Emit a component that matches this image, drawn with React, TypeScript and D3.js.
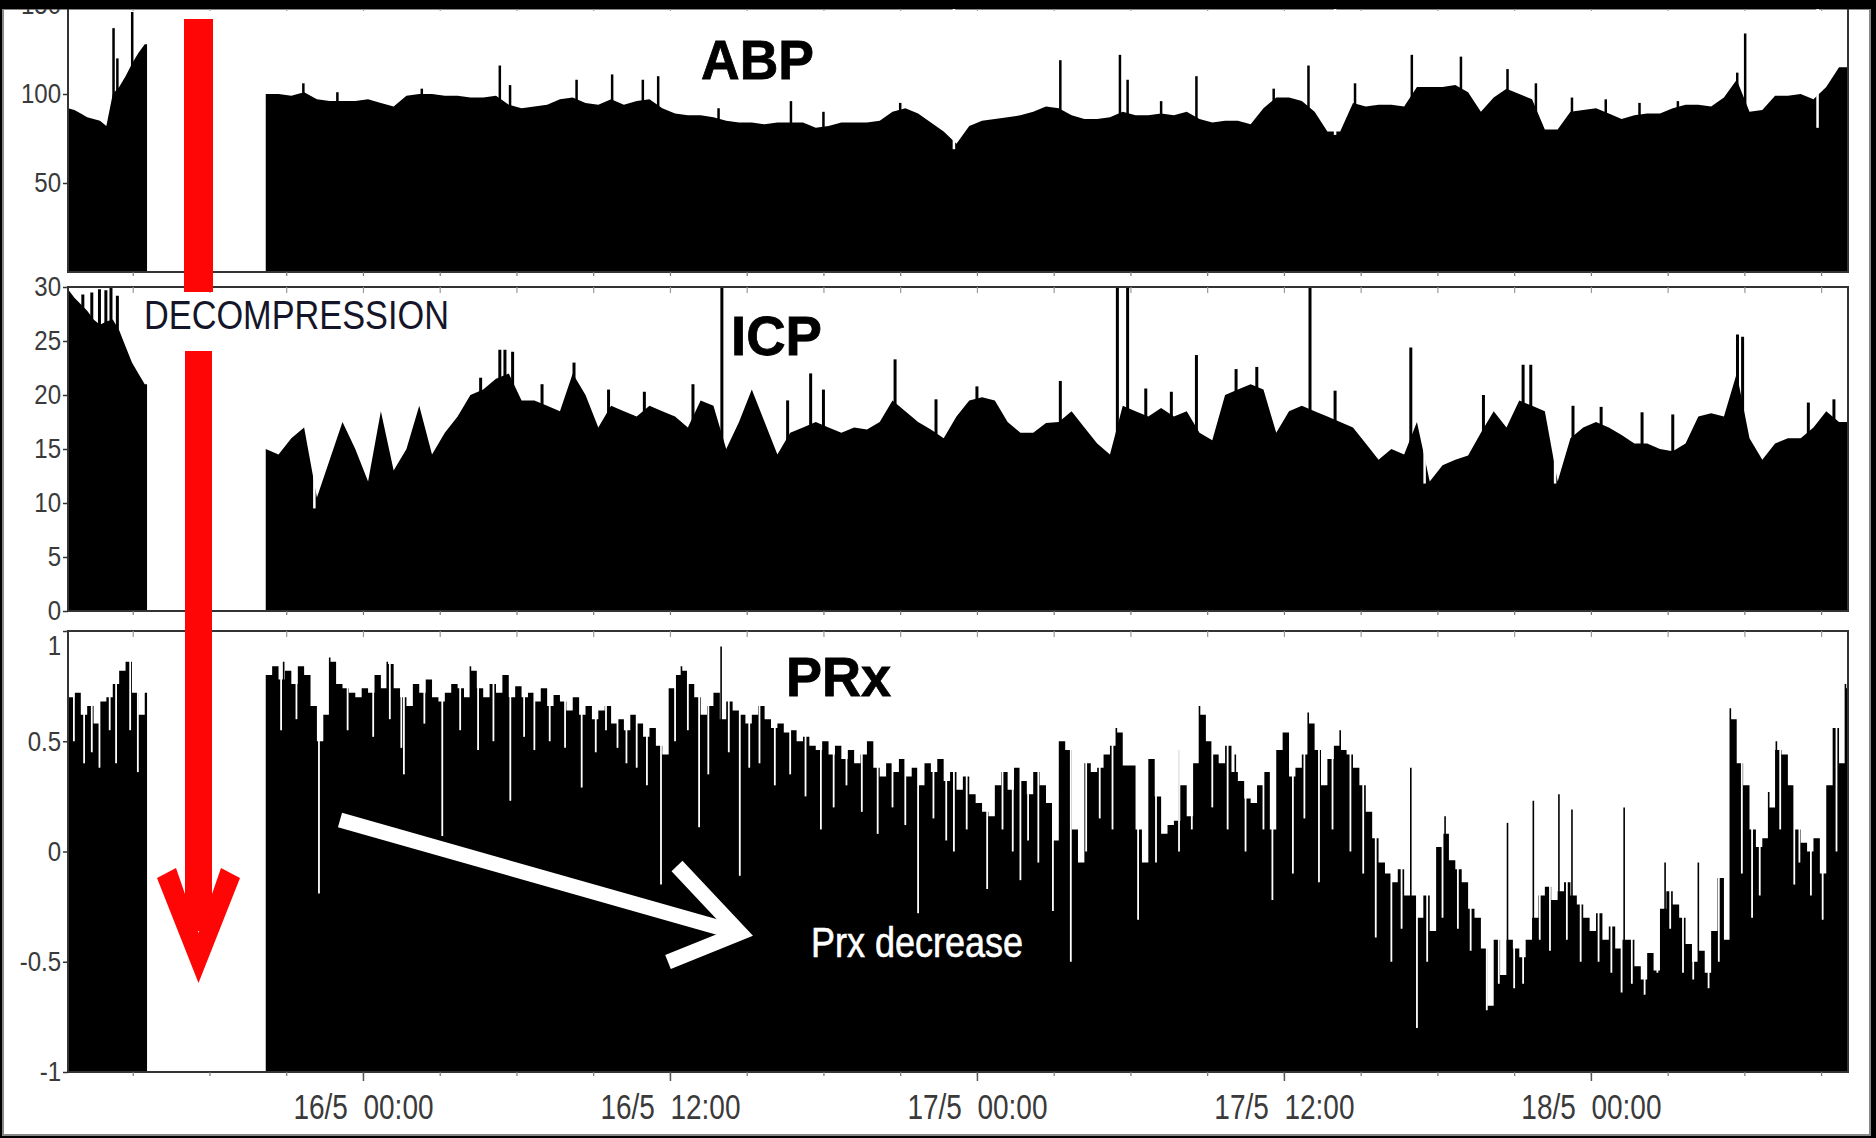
import React, { useEffect, useRef } from "react";
import * as d3 from "d3";

const WIDTH = 1876;
const HEIGHT = 1138;
const FONT = "'Liberation Sans', Arial, Helvetica, sans-serif";

// Time is kept in hours relative to 16/5 00:00
const T0 = Date.UTC(2012, 4, 16, 0, 0);
const VIEW = [-11.53, 58.05];
const PRE = [-11.53, -8.44]; // before decompression, samples every 15 min
const POST = [-3.8, 58.05]; // after decompression

// ABP (mmHg)
const ABP_PRE = [92, 91, 89, 87, 86, 85, 82, 100, 104, 110, 117, 123, 128];
// every 30 min from -3.8h
const ABP_POST = [
  100, 100, 99, 101, 97, 96, 96, 96, 97, 95, 93, 99, 100, 100, 99, 99, 98, 98, 99, 94,
  92, 93, 94, 97, 98, 95, 94, 97, 94, 96, 97, 92, 89, 88, 88, 87, 85, 84, 84, 83,
  84, 84, 84, 81, 82, 84, 84, 84, 85, 90, 92, 89, 84, 79, 72, 82, 85, 86, 87, 88,
  90, 93, 92, 88, 86, 86, 87, 90, 88, 88, 89, 88, 90, 86, 84, 85, 85, 83, 92, 98,
  98, 96, 90, 79, 79, 95, 93, 94, 94, 93, 104, 104, 104, 105, 101, 90, 98, 103, 100, 97,
  80, 80, 90, 91, 92, 89, 86, 88, 89, 89, 92, 94, 94, 93, 98, 108, 90, 91, 99, 99,
  100, 97, 104, 115,
];
const ABP_SPIKES = [
  [-9.75, 137], [-9.6, 120], [-9.02, 146], [-2.33, 106], [-1.0, 101], [2.3, 103], [5.35, 116], [5.75, 105],
  [8.35, 108], [9.74, 111], [10.94, 108], [11.54, 110], [13.9, 92], [16.73, 96], [18.0, 90], [21.0, 95],
  [27.26, 119], [29.59, 122], [29.89, 108], [31.2, 96], [32.58, 110], [36.96, 116], [35.6, 103],
  [38.78, 106], [41.0, 122], [42.92, 121], [44.74, 114], [45.85, 106], [47.26, 98], [49.9, 95],
  [48.58, 97], [51.4, 96], [53.72, 112], [54.03, 134],
];
const ABP_DIPS = [[23.1, 69], [38.0, 77], [56.86, 81]];

// ICP (mmHg)
const ICP_PRE = [29.8, 29, 28.4, 27.8, 27, 26.5, 26.8, 27, 26, 24.5, 23, 22, 21];
const ICP_POST = [
  15, 14.5, 16, 17, 10.5, 14, 17.5, 15, 12, 18.5, 13, 15, 19, 14.5, 16.5, 18, 20, 20.5, 21.5, 22,
  19.5, 19.5, 19, 18.5, 22, 20, 17, 19, 18.5, 18, 19, 18.5, 18, 17, 19.5, 19, 15, 17.5, 20.5, 17.5,
  14.5, 16.5, 17, 17.5, 17, 16.5, 17, 16.8, 17.5, 19.5, 18.5, 17.5, 16.8, 16, 18, 19.5, 19.8, 19.5, 17.5, 16.5,
  16.5, 17.4, 17.5, 18.5, 17, 15.5, 14.5, 19, 18.5, 18, 18.8, 18, 18.5, 16.5, 15.8, 20, 20.5, 21, 20.5, 16.5,
  18.5, 19, 18.5, 18, 17.5, 17, 15.5, 14, 15, 14.5, 17.5, 12, 13.5, 14, 14.4, 16.5, 18.5, 17, 19.5, 19,
  18.5, 12, 16, 17, 17.5, 17, 16.3, 15.5, 15.5, 15, 14.8, 15.5, 18, 18.3, 18, 22, 16, 14, 15.5, 16,
  16, 17, 18.5, 17.5,
];
const ICP_SPIKES = [
  [-10.95, 29.3], [-10.6, 29.5], [-10.3, 29.8], [-10.05, 29.7], [-9.85, 29.9], [-9.6, 29.2],
  [4.6, 21.6], [5.35, 24.2], [5.55, 24.2], [5.85, 24], [7.0, 21], [8.25, 23], [9.6, 20.5], [11.0, 20.3],
  [12.9, 21], [14.03, 31], [16.6, 19.5], [17.5, 22], [18.0, 20.5], [20.8, 23.3], [22.4, 19.6],
  [24.0, 20.8], [27.26, 21.3], [29.49, 31], [29.89, 31], [30.6, 20.6], [31.6, 20.3], [32.58, 23.7],
  [34.13, 22.4], [34.94, 22.6], [37.02, 31], [38.0, 20.4], [40.96, 24.4], [43.8, 20], [45.35, 22.8], [45.65, 22.8],
  [47.3, 19], [48.4, 18.9], [50.0, 18.4], [51.2, 18.2], [53.73, 25.6], [53.93, 25.4], [56.5, 19.3], [57.5, 19.6],
];
const ICP_DIPS = [[-1.9, 9.5], [41.5, 11.8], [46.6, 11.8]];

// PRx (a.u.)
const PRX_PRE = [0.7, 0.72, 0.62, 0.66, 0.58, 0.68, 0.7, 0.76, 0.82, 0.86, 0.72, 0.62, 0.72];
// every 15 min from -3.8h
const PRX_POST = [
  0.8, 0.84, 0.78, 0.82, 0.76, 0.84, 0.8, 0.66, 0.5, 0.62, 0.86, 0.76, 0.74, 0.72, 0.7, 0.74,
  0.72, 0.8, 0.74, 0.85, 0.74, 0.7, 0.66, 0.76, 0.72, 0.78, 0.7, 0.68, 0.72, 0.76, 0.74, 0.7,
  0.82, 0.74, 0.7, 0.76, 0.72, 0.8, 0.7, 0.75, 0.7, 0.72, 0.68, 0.74, 0.66, 0.71, 0.68, 0.64,
  0.7, 0.62, 0.66, 0.6, 0.64, 0.66, 0.58, 0.6, 0.55, 0.62, 0.58, 0.52, 0.56, 0.48, 0.44, 0.74,
  0.8, 0.82, 0.76, 0.7, 0.62, 0.66, 0.72, 0.6, 0.68, 0.64, 0.62, 0.58, 0.62, 0.66, 0.6, 0.56,
  0.58, 0.54, 0.55, 0.5, 0.52, 0.48, 0.46, 0.5, 0.44, 0.48, 0.42, 0.46, 0.4, 0.44, 0.5, 0.38,
  0.34, 0.4, 0.36, 0.42, 0.34, 0.38, 0.3, 0.4, 0.36, 0.42, 0.32, 0.36, 0.28, 0.34, 0.26, 0.22,
  0.18, 0.16, 0.3, 0.36, 0.28, 0.38, 0.32, 0.26, 0.36, 0.3, 0.22,
  0.05, 0.5, 0.46, 0.1, -0.05, 0.4, 0.36, 0.38, 0.44, 0.48, 0.54, 0.39, 0.39,
  0.1, -0.05, 0.42, 0.25, 0.08, 0.12, 0.14, 0.3, 0.16, 0.4, 0.62, 0.5, 0.44, 0.4, 0.48, 0.36,
  0.32, 0.24, 0.22, 0.3, 0.36, 0.1, 0.46, 0.54, 0.34, 0.38, 0.44, 0.58, 0.46, 0.3, 0.42, 0.48,
  0.46, 0.44, 0.38, 0.3, 0.18, 0.06, -0.05, -0.1, -0.14, -0.08, -0.2, -0.2, -0.3, -0.2, -0.36, 0.02,
  0.08, -0.04, -0.08, -0.14, -0.26, -0.3, -0.44, -0.7, -0.4, -0.56, -0.4, -0.44, -0.48, -0.4, -0.3, -0.2,
  -0.16, -0.22, -0.18, -0.14, -0.2, -0.24, -0.3, -0.36, -0.28, -0.4, -0.34, -0.44, -0.4, -0.4, -0.52, -0.58,
  -0.46, -0.54, -0.26, -0.18, -0.24, -0.3, -0.42, -0.5, -0.45, -0.55, -0.36, -0.12, -0.4, 0.6, 0.4, 0.3,
  0.1, 0.02, 0.06, 0.2, 0.46, 0.44, 0.3, 0.1, 0.04, 0.0, 0.06, -0.1, 0.3, 0.56, 0.4, 0.74,
];
const PRX_SPIKES = [
  [-3.1, 0.86], [-1.3, 0.88], [0.95, 0.86], [4.2, 0.84], [12.45, 0.84], [14.0, 0.93],
  [29.45, 0.56], [32.7, 0.66], [36.95, 0.63], [40.96, 0.38], [44.74, 0.13], [45.75, 0.23],
  [46.75, 0.26], [47.26, 0.19], [49.3, 0.2], [52.2, -0.05], [53.45, 0.65], [55.25, 0.5], [57.95, 0.76],
  [31.9, 0.46], [34.1, 0.44], [38.2, 0.55], [42.3, 0.16], [50.9, -0.05], [54.95, 0.27],
];
const PRX_DIPS = [
  [-11.3, 0.5], [-10.9, 0.4], [-10.6, 0.45], [-10.3, 0.38], [-9.9, 0.55], [-9.65, 0.4], [-9.1, 0.55], [-8.8, 0.36],
  [-3.2, 0.55], [-2.6, 0.6], [-1.72, -0.19], [-0.6, 0.55], [0.4, 0.52], [1.05, 0.6], [1.5, 0.47], [1.6, 0.35],
  [2.4, 0.58], [3.1, 0.07], [3.8, 0.55], [4.5, 0.46], [5.1, 0.5], [5.76, 0.23], [6.3, 0.52], [6.7, 0.46],
  [7.3, 0.5], [7.9, 0.47], [8.55, 0.29], [9.1, 0.45], [9.5, 0.55], [9.95, 0.47], [10.3, 0.4], [10.7, 0.38],
  [11.1, 0.3], [11.65, -0.15], [12.2, 0.5], [12.7, 0.55], [13.14, 0.11], [13.5, 0.35], [14.3, 0.45],
  [14.73, -0.11], [15.1, 0.38], [15.5, 0.4], [16.1, 0.3], [16.7, 0.35], [17.3, 0.25], [17.9, 0.1],
  [18.4, 0.2], [18.9, 0.3], [19.5, 0.18], [20.12, 0.08], [20.7, 0.2], [21.2, 0.12], [21.7, -0.28],
  [22.3, 0.15], [22.8, 0.05], [23.1, 0.0], [23.6, 0.1], [24.4, -0.17], [25.0, 0.1], [25.4, 0.0],
  [25.7, -0.13], [26.0, 0.05], [26.4, -0.05],
  [26.97, -0.27], [27.67, -0.5], [28.27, 0.0], [28.8, 0.15], [29.3, 0.1], [30.3, -0.31], [31.0, -0.05],
  [31.9, 0.0], [32.4, 0.1], [33.2, 0.2], [33.8, 0.1], [34.5, 0.0], [35.2, 0.1], [35.55, -0.22], [36.35, -0.1],
  [36.8, 0.15], [37.37, -0.14], [37.9, 0.1], [38.6, 0.0], [39.1, -0.1], [39.59, -0.39], [40.2, -0.5],
  [40.6, -0.35], [41.2, -0.8], [41.6, -0.5], [42.2, -0.3], [42.8, -0.35], [43.3, -0.45], [43.93, -0.72],
  [44.4, -0.6], [45.0, -0.62], [45.35, -0.6], [46.0, -0.4], [46.4, -0.45], [47.06, -0.4], [47.6, -0.5],
  [48.3, -0.5], [48.8, -0.55], [49.2, -0.64], [49.6, -0.6], [50.1, -0.65], [50.6, -0.55], [51.1, -0.35],
  [51.6, -0.55], [52.0, -0.58], [52.6, -0.62], [53.0, -0.5], [53.9, -0.1], [54.3, -0.3], [54.6, -0.2],
  [55.4, 0.1], [55.95, -0.15], [56.15, -0.05], [56.6, -0.2], [57.06, -0.31], [57.6, 0.0],
];

const PANELS = [
  {
    name: "ABP", top: 5, bottom: 272, domain: [0, 150], ticks: [50, 100, 150],
    pre: ABP_PRE, post: ABP_POST, step: 0.5, spikes: ABP_SPIKES, dips: ABP_DIPS, spikeW: 2.5,
    curve: d3.curveLinear, label: { x: 701, y: 79, len: 113 },
  },
  {
    name: "ICP", top: 287, bottom: 611, domain: [0, 30], ticks: [0, 5, 10, 15, 20, 25, 30],
    pre: ICP_PRE, post: ICP_POST, step: 0.5, spikes: ICP_SPIKES, dips: ICP_DIPS, spikeW: 3,
    curve: d3.curveLinear, label: { x: 731, y: 355, len: 91 },
  },
  {
    name: "PRx", top: 631, bottom: 1072, domain: [-1, 1], ticks: [-1, -0.5, 0, 0.5, 1],
    pre: PRX_PRE, post: PRX_POST, step: 0.25, spikes: PRX_SPIKES, dips: PRX_DIPS, spikeW: 1.6,
    curve: d3.curveStepAfter, label: { x: 786, y: 696, len: 105 },
  },
];

const toDate = (h: number) => new Date(T0 + h * 3600 * 1000);

// turn a regularly sampled list into points; the last sample is held until the segment end
function samples(values: number[], start: number, step: number, end: number) {
  const pts = values.map((v, i) => ({ t: start + i * step, v }));
  pts.push({ t: end, v: values[values.length - 1] });
  return pts.filter((d) => d.t <= end);
}

export default function App() {
  const svgRef = useRef<SVGSVGElement>(null);

  useEffect(() => {
    const svg = d3.select(svgRef.current);
    svg.selectAll("*").remove();

    // picture frame
    svg.append("rect").attr("width", WIDTH).attr("height", HEIGHT).attr("fill", "#000");
    svg.append("rect")
      .attr("x", 3).attr("y", 9).attr("width", 1867).attr("height", 1126)
      .attr("fill", "#fff").attr("stroke", "#888").attr("stroke-width", 2);

    const left = 68, right = 1848;
    const x = d3.scaleUtc().domain(VIEW.map(toDate)).range([left, right]);
    const every3 = d3.utcHour.every(3)!;
    const every12 = d3.utcHour.every(12)!;

    PANELS.forEach((p) => {
      const y = d3.scaleLinear().domain(p.domain).range([p.bottom, p.top]);
      const clipId = `clip-${p.name}`;
      svg.append("clipPath").attr("id", clipId)
        .append("rect").attr("x", left).attr("y", p.top)
        .attr("width", right - left).attr("height", p.bottom - p.top);

      const plot = svg.append("g").attr("clip-path", `url(#${clipId})`);
      const area = d3.area<{ t: number; v: number }>()
        .x((d) => x(toDate(d.t)))
        .y0(y(p.domain[0]))
        .y1((d) => y(d.v))
        .curve(p.curve);

      [samples(p.pre, PRE[0], 0.25, PRE[1]), samples(p.post, POST[0], p.step, POST[1])].forEach((s) => {
        plot.append("path").attr("d", area(s)).attr("fill", "#000");
      });

      // short excursions drawn as single samples
      plot.selectAll(".spike").data(p.spikes).join("line")
        .attr("x1", (d) => x(toDate(d[0]))).attr("x2", (d) => x(toDate(d[0])))
        .attr("y1", y(p.domain[0])).attr("y2", (d) => y(d[1]))
        .attr("stroke", "#000").attr("stroke-width", p.spikeW);

      plot.selectAll(".dip").data(p.dips).join("line")
        .attr("x1", (d) => x(toDate(d[0]))).attr("x2", (d) => x(toDate(d[0])))
        .attr("y1", p.top).attr("y2", (d) => y(d[1]))
        .attr("stroke", "#fff").attr("stroke-width", p.name === "PRx" ? 1.8 : 2.5);

      // panel box
      svg.append("rect")
        .attr("x", left).attr("y", p.top).attr("width", right - left).attr("height", p.bottom - p.top)
        .attr("fill", "none").attr("stroke", "#333").attr("stroke-width", 2);

      // y axis
      const yAxis = svg.append("g")
        .attr("transform", `translate(${left},0)`)
        .call(d3.axisLeft(y).tickValues(p.ticks).tickSize(5).tickPadding(3).tickFormat((d) => String(d)));
      yAxis.select(".domain").remove();
      yAxis.selectAll("line").attr("stroke", "#333").attr("stroke-width", 1.5);
      yAxis.selectAll("text")
        .attr("font-family", FONT).attr("font-size", 28).attr("fill", "#3a3a3a")
        .attr("transform", "scale(0.86,1)");
      if (p.name === "PRx") {
        // the top label sits a little below its tick, clear of the ICP zero
        yAxis.selectAll<SVGTextElement, number>("text").filter((d) => d === 1).attr("dy", "0.85em");
      }

      // small time ticks on top (inward) and bottom (outward) of each panel
      const topTicks = svg.append("g").attr("transform", `translate(0,${p.top})`)
        .call(d3.axisBottom(x).ticks(every3).tickSize(6).tickFormat(() => ""));
      topTicks.select(".domain").remove();
      topTicks.selectAll("line").attr("stroke", "#999").attr("stroke-width", 1.2);

      const botTicks = svg.append("g").attr("transform", `translate(0,${p.bottom})`)
        .call(d3.axisBottom(x).ticks(every3).tickSize(4).tickFormat(() => ""));
      botTicks.select(".domain").remove();
      botTicks.selectAll("line").attr("stroke", "#777").attr("stroke-width", 1.2);

      svg.append("text")
        .attr("x", p.label.x).attr("y", p.label.y)
        .attr("font-family", FONT).attr("font-size", 55).attr("font-weight", "bold")
        .attr("textLength", p.label.len).attr("lengthAdjust", "spacingAndGlyphs")
        .attr("fill", "#000").attr("stroke", "#000").attr("stroke-width", 0.8)
        .text(p.name);
    });

    // time axis under the PRx panel
    const fmt = d3.utcFormat("%-d/%-m  %H:%M");
    const xAxis = svg.append("g").attr("transform", "translate(0,1072)")
      .call(d3.axisBottom(x).ticks(every12).tickSize(9).tickPadding(13).tickFormat((d) => fmt(d as Date)));
    xAxis.select(".domain").remove();
    xAxis.selectAll("line").attr("stroke", "#555").attr("stroke-width", 1.5);
    xAxis.selectAll("text")
      .attr("font-family", FONT).attr("font-size", 35).attr("fill", "#3a3a3a")
      .attr("transform", "scale(0.8,1)")
      .style("white-space", "pre");

    // red decompression arrow
    const red = "#ff0606";
    svg.append("rect").attr("x", 184).attr("y", 19).attr("width", 29).attr("height", 273).attr("fill", red);
    svg.append("rect").attr("x", 185).attr("y", 351).attr("width", 27).attr("height", 580).attr("fill", red);
    svg.append("path")
      .attr("d", "M157,878 L176,868 L198.5,933 L221,868 L240,878 L198.5,983 Z")
      .attr("fill", red);

    svg.append("text")
      .attr("x", 144).attr("y", 329)
      .attr("font-family", FONT).attr("font-size", 40)
      .attr("textLength", 305).attr("lengthAdjust", "spacingAndGlyphs")
      .attr("fill", "#15152a")
      .text("DECOMPRESSION");

    // white trend arrow on the PRx panel
    svg.append("line")
      .attr("x1", 340).attr("y1", 820).attr("x2", 738).attr("y2", 933)
      .attr("stroke", "#fff").attr("stroke-width", 15);
    svg.append("path")
      .attr("d", "M677,866 L740,933 L668,962")
      .attr("fill", "none").attr("stroke", "#fff").attr("stroke-width", 15)
      .attr("stroke-linejoin", "miter");

    svg.append("text")
      .attr("x", 811).attr("y", 957)
      .attr("font-family", FONT).attr("font-size", 42)
      .attr("textLength", 212).attr("lengthAdjust", "spacingAndGlyphs")
      .attr("fill", "#fff").attr("stroke", "#fff").attr("stroke-width", 0.6)
      .text("Prx decrease");

    // black band along the top edge of the picture
    svg.append("rect").attr("width", WIDTH).attr("height", 9).attr("fill", "#000");
  }, []);

  return (
    <div style={{ position: "absolute", left: 0, top: 0 }}>
      <svg ref={svgRef} width={WIDTH} height={HEIGHT} style={{ display: "block" }} />
    </div>
  );
}
